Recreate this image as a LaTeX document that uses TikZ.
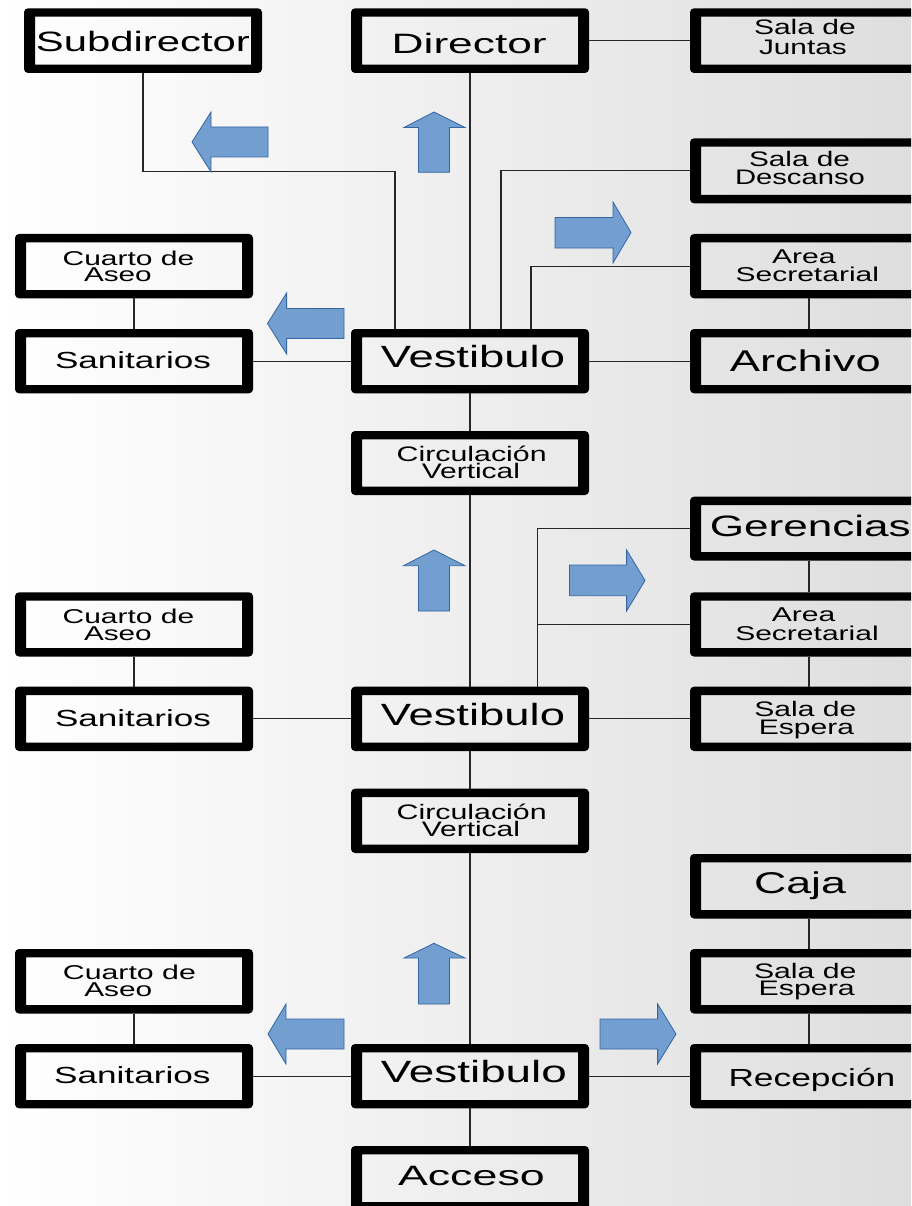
\documentclass[tikz,border=0pt]{standalone}
\usepackage{fontspec}
\setmainfont{Liberation Sans}
\usepackage{graphicx}
\definecolor{arrowfill}{HTML}{729FCF}
\definecolor{arrowline}{HTML}{3465A4}
\definecolor{bgright}{RGB}{222,222,222}
\tikzset{
  boxnode/.style={rectangle, inner sep=0pt, outer sep=0pt},
  txt/.style={anchor=base, inner sep=0pt, outer sep=0pt},
  conn/.style={draw=black!85, line width=1.1pt},
  blockarrow/.style={fill=arrowfill, draw=arrowline, line width=0.8pt, line join=miter},
}
\newcommand\bx[5]{%
  \fill[black, even odd rule, rounded corners=4pt] (#2,#3) rectangle (#4,#5)
     [sharp corners] ({#2+11},{#3+8.3}) rectangle ({#4-11},{#5-8.3});
  \node[boxnode, minimum width={#4-#2}, minimum height={#5-#3}] (#1) at ({(#2+#4)/2},{(#3+#5)/2}) {};
}
\newcommand\lbl[6]{%
  \node[txt] (#1) at (#2,#3) {\resizebox{#4pt}{\height}{\fontsize{#5}{#5}\selectfont #6}};
}
\begin{document}
\begin{tikzpicture}[x=1pt,y=-1pt]
\useasboundingbox (0,0) rectangle (911,1206);
\clip (0,0) rectangle (911,1206);
\shade[left color=white, right color=bgright] (0,0) rectangle (911,1206);

% boxes
\bx{sub}{24}{8.3}{262}{73}
\bx{dir}{351}{8.3}{589}{73}
\bx{jun}{690}{8.3}{928}{73}
\bx{desc}{690}{138.3}{928}{203.3}
\bx{cu1}{15}{234}{253}{298.3}
\bx{as1}{690}{234}{928}{298.3}
\bx{san1}{15}{329}{253}{393.3}
\bx{v1}{351}{329}{589}{393.3}
\bx{arch}{690}{329}{928}{393.3}
\bx{circ1}{351}{431}{589}{495}
\bx{ger}{690}{496.7}{928}{560.5}
\bx{cu2}{15}{592.3}{253}{656.5}
\bx{as2}{690}{592.3}{928}{656.5}
\bx{san2}{15}{686.7}{253}{751}
\bx{v2}{351}{686.7}{589}{751}
\bx{esp2}{690}{686.7}{928}{751}
\bx{circ2}{351}{788.7}{589}{853}
\bx{caja}{690}{854}{928}{918.5}
\bx{cu3}{15}{949}{253}{1013.5}
\bx{esp3}{690}{949}{928}{1013.5}
\bx{san3}{15}{1044}{253}{1108.3}
\bx{v3}{351}{1044}{589}{1108.3}
\bx{rec}{690}{1044}{928}{1108.3}
\bx{acc}{351}{1146}{589}{1210.5}

% junction coordinates
\coordinate (subj) at (395,171.5);
\coordinate (descj) at (501,0);
\coordinate (as1j) at (531,0);
\coordinate (gj) at (537.5,0);

% connectors
\draw[conn] (dir.south) -- (v1.north);
\draw[conn] (dir.east) -- (jun.west);
\draw[conn] (sub.south) |- (subj) -- (subj |- v1.north);
\draw[conn] (desc.west) -| (descj |- v1.north);
\draw[conn] (as1.west) -| (as1j |- v1.north);
\draw[conn] (as1.south) -- (arch.north);
\draw[conn] (cu1.south) -- (san1.north);
\draw[conn] (san1.east) -- (v1.west);
\draw[conn] (v1.east) -- (arch.west);
\draw[conn] (v1.south) -- (circ1.north);
\draw[conn] (circ1.south) -- (v2.north);
\draw[conn] (ger.west) -| (gj |- v2.north);
\draw[conn] (as2.west) -| (gj |- v2.north);
\draw[conn] (ger.south) -- (as2.north);
\draw[conn] (as2.south) -- (esp2.north);
\draw[conn] (cu2.south) -- (san2.north);
\draw[conn] (san2.east) -- (v2.west);
\draw[conn] (v2.east) -- (esp2.west);
\draw[conn] (v2.south) -- (circ2.north);
\draw[conn] (circ2.south) -- (v3.north);
\draw[conn] (caja.south) -- (esp3.north);
\draw[conn] (esp3.south) -- (rec.north);
\draw[conn] (cu3.south) -- (san3.north);
\draw[conn] (san3.east) -- (v3.west);
\draw[conn] (v3.east) -- (rec.west);
\draw[conn] (v3.south) -- (acc.north);

% block arrows
\draw[blockarrow] (192,142) -- (211,112) -- (211,127) -- (268,127) -- (268,157) -- (211,157) -- (211,172) -- cycle;
\draw[blockarrow] (434,112) -- (465,127.5) -- (449.5,127.5) -- (449.5,172.3) -- (418.5,172.3) -- (418.5,127.5) -- (404,127.5) -- cycle;
\draw[blockarrow] (631,232.5) -- (613,263) -- (613,248) -- (555,248) -- (555,217.5) -- (613,217.5) -- (613,202) -- cycle;
\draw[blockarrow] (267.5,323.5) -- (286.6,293) -- (286.6,308.5) -- (344,308.5) -- (344,338.5) -- (286.6,338.5) -- (286.6,354) -- cycle;
\draw[blockarrow] (434,550) -- (465,565.7) -- (449.5,565.7) -- (449.5,611) -- (418.5,611) -- (418.5,565.7) -- (403.5,565.7) -- cycle;
\draw[blockarrow] (645,580.5) -- (626.6,611) -- (626.6,595.7) -- (569.4,595.7) -- (569.4,565) -- (626.6,565) -- (626.6,550) -- cycle;
\draw[blockarrow] (434,943.3) -- (465,958) -- (449.5,958) -- (449.5,1004) -- (418.5,1004) -- (418.5,958) -- (404,958) -- cycle;
\draw[blockarrow] (268,1034) -- (286,1004) -- (286,1019) -- (344,1019) -- (344,1049) -- (286,1049) -- (286,1064) -- cycle;
\draw[blockarrow] (676,1034) -- (657.6,1064) -- (657.6,1049) -- (600,1049) -- (600,1019) -- (657.6,1019) -- (657.6,1004) -- cycle;

% labels
\lbl{t1}{142.9}{51.7}{214}{28}{Subdirector}
\lbl{t2}{469.2}{53.3}{155}{28}{Director}
\lbl{t3a}{804.9}{35}{101.7}{21}{Sala de}
\lbl{t3b}{802.9}{54.3}{87.7}{21}{Juntas}
\lbl{t4a}{799.5}{166.7}{101}{21}{Sala de}
\lbl{t4b}{800}{184.3}{130}{21}{Descanso}
\lbl{t5a}{128.5}{265}{131.6}{20}{Cuarto de}
\lbl{t5b}{117.9}{281.7}{67.7}{20}{Aseo}
\lbl{t6a}{803.8}{263.3}{63.5}{20}{Area}
\lbl{t6b}{807.3}{281.7}{143.5}{20}{Secretarial}
\lbl{t7}{133}{368.3}{156}{23.3}{Sanitarios}
\lbl{t8}{472.9}{367.7}{184.3}{30.7}{Vestibulo}
\lbl{t9}{805.3}{371.7}{151}{30}{Archivo}
\lbl{t10a}{471.7}{461.7}{150}{21}{Circulación}
\lbl{t10b}{470.9}{478.3}{98.3}{21}{Vertical}
\lbl{t11}{810.3}{536}{201}{29.5}{Gerencias}
\lbl{t12a}{128.5}{623.3}{131.6}{20}{Cuarto de}
\lbl{t12b}{117.9}{640}{67.7}{20}{Aseo}
\lbl{t13a}{803.5}{621.7}{63.5}{20}{Area}
\lbl{t13b}{807}{640}{143.5}{20}{Secretarial}
\lbl{t14}{133}{726}{156}{23.3}{Sanitarios}
\lbl{t15}{472.9}{725}{184.3}{30.7}{Vestibulo}
\lbl{t16a}{805.4}{716.7}{102}{21}{Sala de}
\lbl{t16b}{806.5}{734.3}{95.4}{21}{Espera}
\lbl{t17a}{471.7}{819.4}{150}{21}{Circulación}
\lbl{t17b}{470.9}{836}{98.3}{21}{Vertical}
\lbl{t18}{800}{893.3}{92}{30}{Caja}
\lbl{t19a}{129.4}{979}{133}{20}{Cuarto de}
\lbl{t19b}{118.3}{996.5}{68}{20}{Aseo}
\lbl{t20a}{805.2}{978.3}{102.4}{21}{Sala de}
\lbl{t20b}{806.7}{995.5}{96}{21}{Espera}
\lbl{t21}{132.3}{1083.3}{156.5}{23.3}{Sanitarios}
\lbl{t22}{473.9}{1082.3}{186}{30.7}{Vestibulo}
\lbl{t23}{811.9}{1086}{166.8}{24.7}{Recepción}
\lbl{t24}{471.4}{1185}{146.8}{28}{Acceso}
\end{tikzpicture}
\end{document}
